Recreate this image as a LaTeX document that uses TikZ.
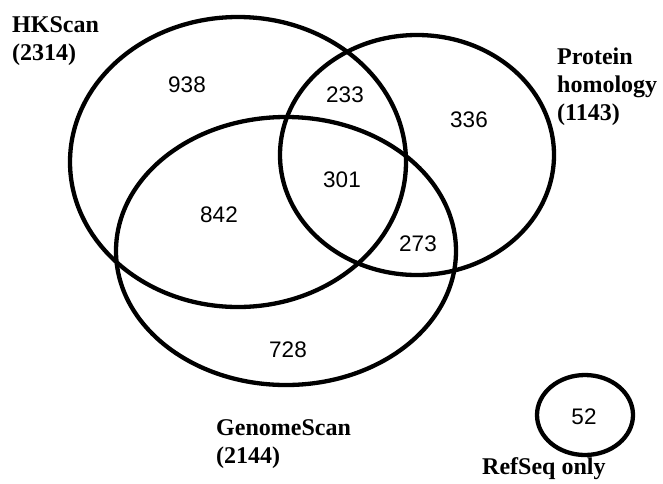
\documentclass[tikz,border=0pt]{standalone}
\usepackage{fontspec}
\setmainfont{Liberation Serif}
\setsansfont{Liberation Sans}
\usepackage{tikz}

\tikzset{
  setline/.style={line width=4.3pt},
  count/.style={font=\sffamily\fontsize{22.5}{26}\selectfont, inner sep=0pt},
  setname/.style={font=\bfseries\fontsize{24}{28}\selectfont, align=left, anchor=base west, inner sep=0pt},
}

\begin{document}
\begin{tikzpicture}[x=1pt, y=-1pt]

  \useasboundingbox (0,0) rectangle (663,483);

  % The three overlapping sets
  \draw[setline] (238,162) ellipse (168 and 145);
  \draw[setline] (417,155) ellipse (137 and 120);
  \draw[setline] (286,251) ellipse (170 and 134);

  % The set on its own
  \draw[setline] (585,415) ellipse (48 and 40);

  % Counts in each region
  \node[count] (hk)      at (187,85)  {938};
  \node[count] (hkpr)    at (345,95)  {233};
  \node[count] (pr)      at (469,120) {336};
  \node[count] (all)     at (342,180) {301};
  \node[count] (hkgs)    at (219,215) {842};
  \node[count] (prgs)    at (418,244) {273};
  \node[count] (gs)      at (288,350) {728};
  \node[count] (rs)      at (584,417) {52};

  % Set names (anchored on the baseline of the last line)
  \node[setname] (hkname) at (12,60)  {HKScan\\(2314)};
  \node[setname] (prname) at (557,120) {Protein\\homology\\(1143)};
  \node[setname] (gsname) at (216,463) {GenomeScan\\(2144)};
  \node[setname] (rsname) at (482,474) {RefSeq only};

\end{tikzpicture}
\end{document}
